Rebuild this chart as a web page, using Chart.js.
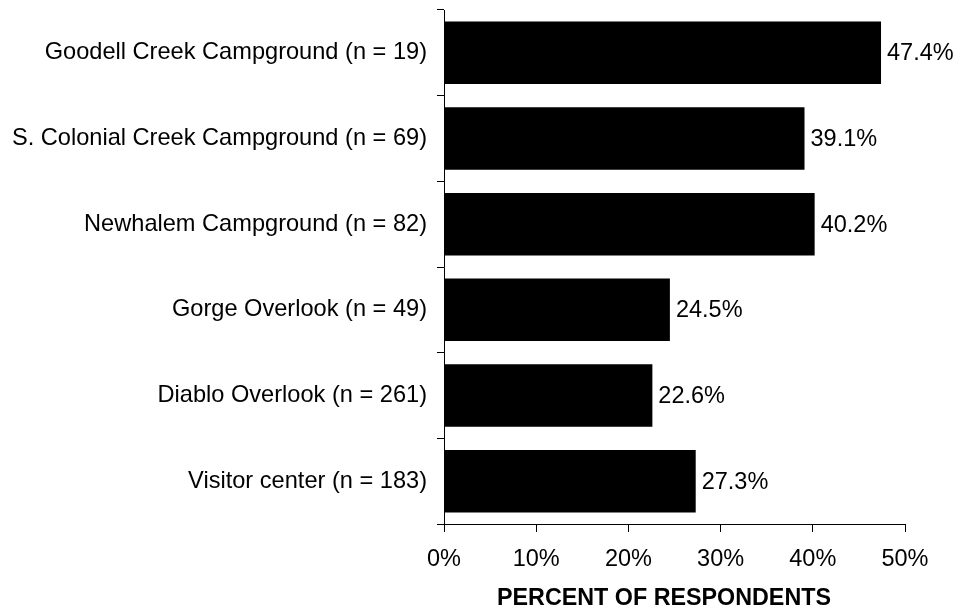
<!DOCTYPE html>
<html><head><meta charset="utf-8">
<script src="https://cdn.jsdelivr.net/npm/chart.js@4"></script>
<style>html,body{margin:0;padding:0;background:#fff}#wrap{width:960px;height:610px}</style>
</head><body><div id="wrap"><canvas id="c" width="960" height="610"></canvas></div>
<script>
const categories = ["Goodell Creek Campground (n = 19)","S. Colonial Creek Campground (n = 69)","Newhalem Campground (n = 82)","Gorge Overlook (n = 49)","Diablo Overlook (n = 261)","Visitor center (n = 183)"];
const percents = [47.4, 39.1, 40.2, 24.5, 22.6, 27.3];
const xTicks = [0, 10, 20, 30, 40, 50];
const axisTitle = "PERCENT OF RESPONDENTS";

const FONT = "'Liberation Sans', Arial, sans-serif";
const valueLabels = {
  id: 'valueLabels',
  afterDatasetsDraw(chart) {
    const ctx = chart.ctx;
    ctx.save();
    ctx.font = "23.5px " + FONT;
    ctx.fillStyle = "#000";
    ctx.textAlign = "left";
    ctx.textBaseline = "middle";
    chart.getDatasetMeta(0).data.forEach((el, i) => {
      ctx.fillText(percents[i].toFixed(1) + "%", el.x + 6, el.y + 1);
    });
    ctx.restore();
  }
};
const axisTitlePlugin = {
  id: 'axisTitlePlugin',
  afterDraw(chart) {
    const ctx = chart.ctx;
    ctx.save();
    ctx.font = "bold 23.3px " + FONT;
    ctx.fillStyle = "#000";
    ctx.textAlign = "center";
    ctx.textBaseline = "middle";
    ctx.fillText(axisTitle, 664, 599);
    ctx.restore();
  }
};
new Chart(document.getElementById('c'), {
  type: 'bar',
  data: { labels: categories, datasets: [{ data: percents, backgroundColor: '#000', borderWidth: 0, categoryPercentage: 1, barPercentage: 0.73 }] },
  options: {
    indexAxis: 'y', responsive: false, animation: false,
    layout: { padding: { left: 0, right: 55, top: 10, bottom: 0 } },
    plugins: { legend: { display: false }, tooltip: { enabled: false } },
    scales: {
      x: {
        min: 0, max: 50,
        afterBuildTicks: s => { s.ticks = xTicks.map(v => ({ value: v })); },
        afterFit: s => { s.height = 86; s.paddingLeft = 0; s.paddingRight = 0; },
        grid: { drawOnChartArea: false, tickLength: 8, color: '#000', lineWidth: 1 },
        border: { display: true, color: '#000', width: 1 },
        ticks: { color: '#000', font: { family: FONT, size: 23.5 }, padding: 13, callback: v => v + '%' }
      },
      y: {
        afterFit: s => { s.width = 444; s.paddingTop = 0; s.paddingBottom = 0; },
        grid: { drawOnChartArea: false, tickLength: 7, color: '#000', lineWidth: 1, offset: true },
        border: { display: true, color: '#000', width: 1 },
        ticks: { color: '#000', font: { family: FONT, size: 23.6 }, padding: 10 }
      }
    }
  },
  plugins: [valueLabels, axisTitlePlugin]
});
</script></body></html>
